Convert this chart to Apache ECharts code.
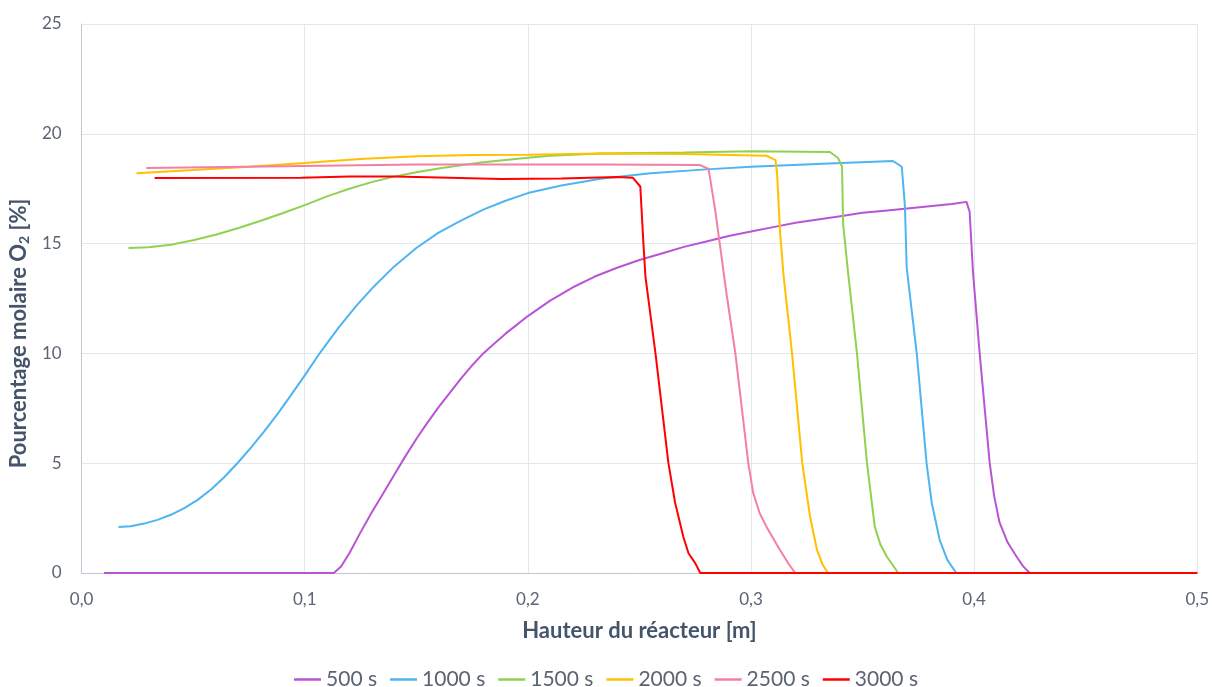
<!DOCTYPE html>
<html>
<head>
<meta charset="utf-8">
<script src="https://cdn.jsdelivr.net/npm/echarts@6/dist/echarts.min.js"></script>
<style>
html,body{margin:0;padding:0;background:#fff;}
#chart{width:1212px;height:687px;}
</style>
</head>
<body>
<div id="chart"></div>
<script>
// Legend names
const seriesNames = ['500 s', '1000 s', '1500 s', '2000 s', '2500 s', '3000 s'];
const seriesColors = ['#B955D4', '#4DB6F0', '#92D050', '#FFC000', '#F47FA4', '#FF0000'];

// x axis ticks (m) and y axis ticks (%)
const xTicks = [0, 0.1, 0.2, 0.3, 0.4, 0.5];
const yTicks = [0, 5, 10, 15, 20, 25];

// [hauteur (m), % O2]
const s500 = [[0.01,0],[0.113,0],[0.1163,0.3],[0.12,0.9],[0.125,1.85],[0.13,2.75],[0.135,3.6],[0.14,4.45],[0.145,5.3],[0.15,6.1],[0.155,6.85],[0.16,7.55],[0.165,8.2],[0.17,8.85],[0.175,9.45],[0.18,10.0],[0.185,10.45],[0.19,10.9],[0.195,11.3],[0.2,11.7],[0.21,12.4],[0.22,13.0],[0.23,13.5],[0.24,13.9],[0.25,14.25],[0.26,14.55],[0.27,14.85],[0.28,15.1],[0.29,15.35],[0.3,15.55],[0.31,15.75],[0.32,15.95],[0.33,16.1],[0.34,16.25],[0.35,16.4],[0.36,16.5],[0.37,16.6],[0.38,16.7],[0.39,16.8],[0.3966,16.9],[0.398,16.45],[0.3995,13.7],[0.4025,10.0],[0.407,5.0],[0.409,3.5],[0.4114,2.3],[0.415,1.4],[0.419,0.75],[0.422,0.3],[0.4249,0],[0.5,0]];
const s1000 = [[0.0165,2.09],[0.022,2.13],[0.028,2.25],[0.034,2.42],[0.04,2.65],[0.046,2.95],[0.052,3.33],[0.058,3.8],[0.064,4.37],[0.07,5.02],[0.076,5.72],[0.082,6.47],[0.088,7.27],[0.094,8.12],[0.1,9.0],[0.107,10.05],[0.115,11.15],[0.123,12.15],[0.131,13.05],[0.14,13.95],[0.15,14.8],[0.16,15.5],[0.17,16.05],[0.18,16.55],[0.19,16.95],[0.2,17.3],[0.215,17.65],[0.2326,17.95],[0.255,18.2],[0.28,18.38],[0.3,18.5],[0.335,18.65],[0.3636,18.76],[0.3676,18.5],[0.369,16.7],[0.3698,13.9],[0.3743,10.0],[0.3787,5.0],[0.381,3.2],[0.3846,1.5],[0.388,0.6],[0.392,0],[0.5,0]];
const s1500 = [[0.021,14.8],[0.03,14.83],[0.04,14.95],[0.05,15.15],[0.06,15.4],[0.07,15.7],[0.08,16.03],[0.09,16.38],[0.1,16.75],[0.11,17.15],[0.12,17.5],[0.13,17.8],[0.14,18.05],[0.15,18.25],[0.16,18.42],[0.17,18.57],[0.18,18.7],[0.19,18.81],[0.2,18.91],[0.21,19.0],[0.22,19.05],[0.2326,19.1],[0.27,19.15],[0.3,19.2],[0.3354,19.17],[0.339,18.9],[0.3408,18.5],[0.3413,15.9],[0.3435,13.7],[0.3475,10.0],[0.352,5.0],[0.3555,2.1],[0.358,1.3],[0.361,0.73],[0.366,0],[0.5,0]];
const s2000 = [[0.0246,18.2],[0.05,18.35],[0.075,18.5],[0.0997,18.67],[0.125,18.85],[0.15,18.98],[0.175,19.03],[0.2,19.05],[0.2326,19.1],[0.27,19.08],[0.307,19.0],[0.311,18.8],[0.3117,18.2],[0.313,15.6],[0.3145,13.66],[0.3184,10.0],[0.323,5.0],[0.3265,2.55],[0.3296,1.05],[0.332,0.4],[0.3345,0],[0.5,0]];
const s2500 = [[0.029,18.44],[0.0997,18.53],[0.15,18.6],[0.2326,18.6],[0.277,18.58],[0.281,18.4],[0.284,16.5],[0.2862,14.85],[0.289,12.75],[0.293,10.0],[0.2988,5.0],[0.301,3.64],[0.304,2.7],[0.307,2.1],[0.313,1.05],[0.317,0.4],[0.3198,0],[0.5,0]];
const s3000 = [[0.0327,17.99],[0.0984,18.0],[0.12,18.05],[0.14,18.05],[0.165,18.0],[0.188,17.94],[0.215,17.97],[0.24,18.03],[0.247,18.0],[0.2504,17.6],[0.2518,15.0],[0.2527,13.5],[0.2572,10.0],[0.263,5.0],[0.266,3.2],[0.2697,1.64],[0.272,0.9],[0.275,0.45],[0.2773,0],[0.5,0]];

const allData = [s500, s1000, s1500, s2000, s2500, s3000];

const FONT = 'Lato, "Open Sans", sans-serif';
const tickColor = '#5A6475';
const nameColor = '#44546A';

const chart = echarts.init(document.getElementById('chart'), null, {renderer: 'canvas'});
chart.setOption({
  animation: false,
  backgroundColor: '#ffffff',
  textStyle: {fontFamily: FONT},
  grid: {left: 80, right: 14, top: 24, bottom: 114, containLabel: false},
  legend: {
    data: seriesNames,
    top: 664,
    left: 'center',
    icon: 'rect',
    itemWidth: 27,
    itemHeight: 2.5,
    itemGap: 13,
    textStyle: {fontFamily: FONT, fontSize: 21, color: tickColor}
  },
  xAxis: {
    type: 'value',
    min: xTicks[0],
    max: xTicks[xTicks.length - 1],
    interval: 0.1,
    name: 'Hauteur du réacteur [m]',
    nameLocation: 'middle',
    nameGap: 47,
    nameTextStyle: {fontFamily: FONT, fontSize: 22, fontWeight: 'bold', color: nameColor},
    axisLine: {show: true, lineStyle: {color: '#BFC8D4', width: 1}},
    axisTick: {show: false},
    axisLabel: {
      margin: 18,
      fontFamily: FONT, fontSize: 17, color: tickColor,
      formatter: v => v.toFixed(1).replace('.', ',')
    },
    splitLine: {show: true, lineStyle: {color: '#E3E7EC', width: 1}}
  },
  yAxis: {
    type: 'value',
    min: yTicks[0],
    max: yTicks[yTicks.length - 1],
    interval: 5,
    name: 'Pourcentage molaire O{sub|2} [%]',
    nameLocation: 'middle',
    nameRotate: 90,
    nameGap: 42,
    nameTextStyle: {
      fontFamily: FONT, fontSize: 22, fontWeight: 'bold', color: nameColor,
      padding: [0, 70, 0, 0],
      rich: {
        sub: {fontFamily: FONT, fontSize: 14, fontWeight: 'bold', color: nameColor, verticalAlign: 'bottom', padding: [10, 0, 0, 0]}
      }
    },
    axisLine: {show: true, lineStyle: {color: '#BFC8D4', width: 1}},
    axisTick: {show: false},
    axisLabel: {margin: 20, fontFamily: FONT, fontSize: 17, color: tickColor},
    splitLine: {show: true, lineStyle: {color: '#E3E7EC', width: 1}}
  },
  series: seriesNames.map((n, i) => ({
    name: n,
    type: 'line',
    data: allData[i],
    symbol: 'none',
    smooth: false,
    lineStyle: {width: 2, color: seriesColors[i]},
    itemStyle: {color: seriesColors[i]},
    z: 2 + i
  }))
});
</script>
</body>
</html>
